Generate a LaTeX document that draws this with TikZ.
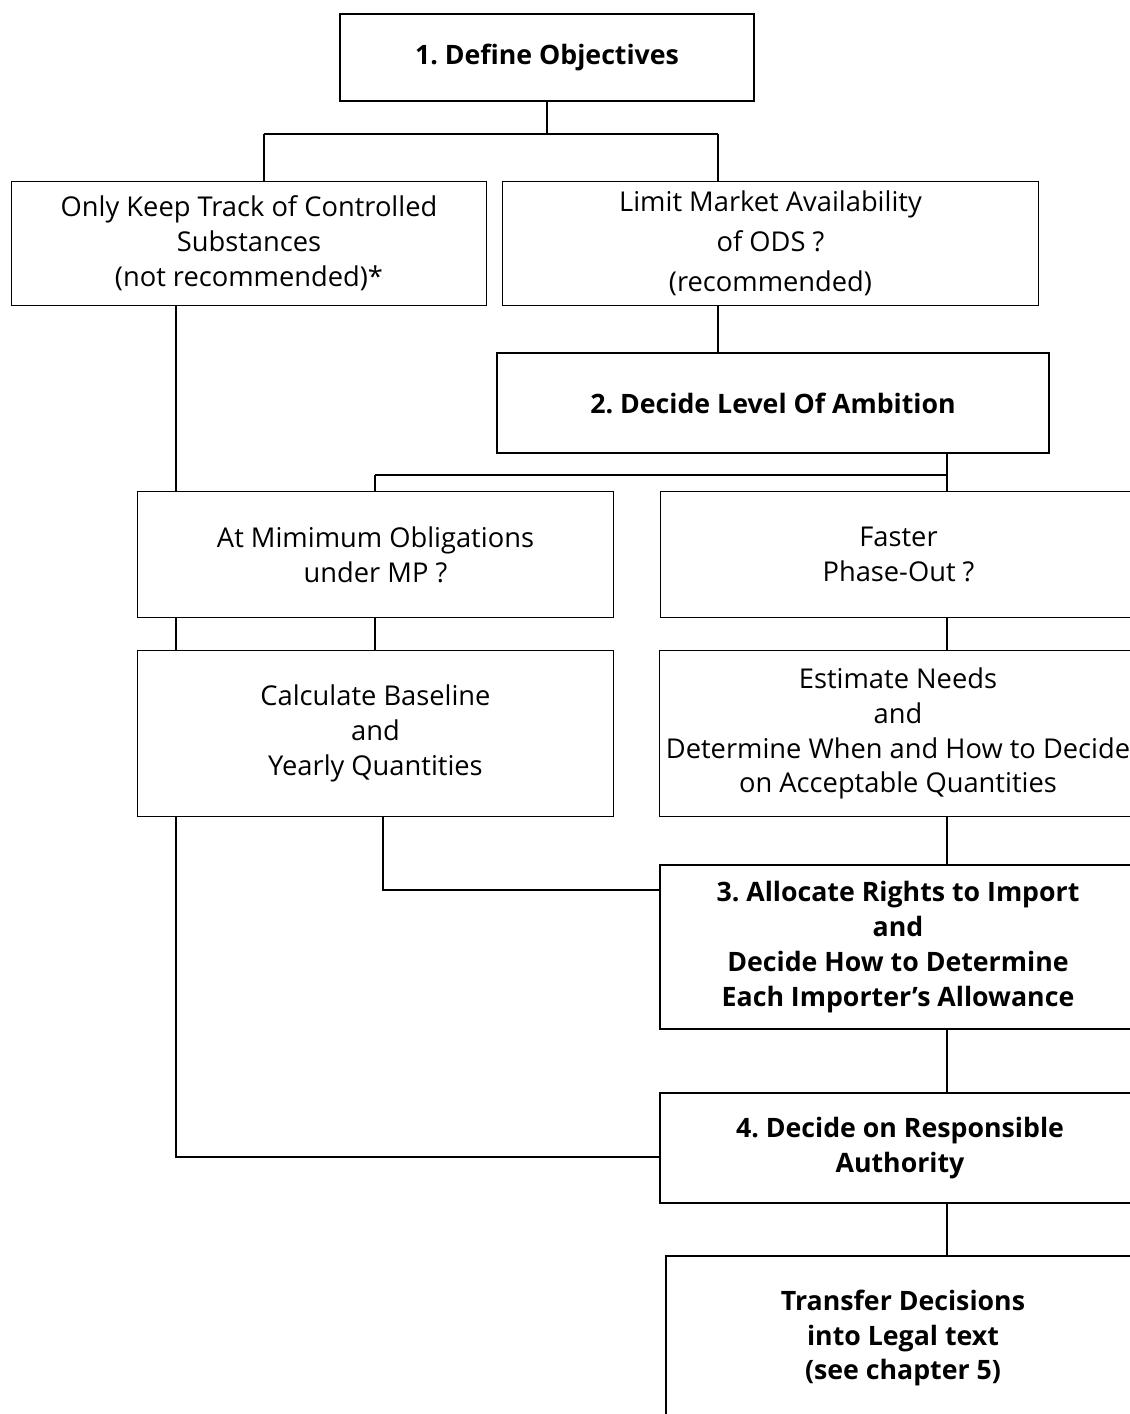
\documentclass[tikz,border=0pt]{standalone}
\usepackage{fontspec}
\setmainfont{Open Sans}
\usetikzlibrary{calc}
\frenchspacing

\begin{document}
\begin{tikzpicture}[x=0.025cm, y=-0.025cm,
    plainbox/.style={draw, line width=0.7pt, align=center, inner sep=0pt,
      font=\fontsize{19.4}{24.8}\selectfont},
    keybox/.style={plainbox, line width=1.4pt,
      font=\fontsize{19}{24.8}\selectfont\bfseries},
    link/.style={line width=1pt},
    bar/.style={line width=1.4pt}]

  \useasboundingbox (0,0) rectangle (1130,1414);
  \clip (0,0) rectangle (1130,1414);

  % Step 1 and the two options
  \node[keybox, minimum width=10.35cm, minimum height=2.175cm] (obj) at (547,57.5)
    {1. Define Objectives};
  \node[plainbox, minimum width=11.875cm, minimum height=3.075cm] (track) at (249,243.5)
    {Only Keep Track of Controlled\\Substances\\(not recommended)*};
  \node[plainbox, minimum width=13.375cm, minimum height=3.075cm,
    font=\fontsize{19.4}{28.3}\selectfont] (limit) at (770.5,243.5)
    {Limit Market Availability\\of ODS ?\\(recommended)};

  % Step 2 and the two levels
  \node[keybox, minimum width=13.8cm, minimum height=2.5cm] (ambition) at (773,403)
    {2. Decide Level Of Ambition};
  \node[plainbox, minimum width=11.875cm, minimum height=3.125cm] (minimum) at (375.5,554.5)
    {At Mimimum Obligations\\under MP ?};
  \node[plainbox, minimum width=11.875cm, minimum height=3.125cm] (faster) at (898.5,554.5)
    {Faster\\Phase-Out ?};
  \node[plainbox, minimum width=11.875cm, minimum height=4.125cm] (baseline) at (375.5,733.5)
    {Calculate Baseline\\and\\Yearly Quantities};
  \node[plainbox, minimum width=11.9cm, minimum height=4.125cm] (needs) at (898,733.5)
    {Estimate Needs\\and\\Determine When and How to Decide\\on Acceptable Quantities};

  % Steps 3, 4 and legal text
  \node[keybox, minimum width=11.9cm, minimum height=4.1cm] (allocate) at (898,947)
    {3. Allocate Rights to Import\\and\\Decide How to Determine\\Each Importer's Allowance};
  \node[keybox, minimum width=11.975cm, minimum height=2.75cm] (authority) at (900,1148)
    {4. Decide on Responsible\\Authority};
  \node[keybox, minimum width=11.85cm, minimum height=4.1cm] (legal) at (903,1338)
    {Transfer Decisions\\into Legal text\\(see chapter 5)};

  % Junctions
  \coordinate (f1l) at (264,134);
  \coordinate (f1r) at (718,134);
  \coordinate (f2l) at (375,475);
  \coordinate (f2r) at (947,475);
  \coordinate (spine) at (176,1157);
  \coordinate (j3) at (383,890);

  % Connectors from step 1
  \draw[link] (obj.south) -- (obj.south |- f1l);
  \draw[bar] (f1l) -- (f1r);
  \draw[link] (f1l) -- (f1l |- track.north);
  \draw[link] (f1r) -- (f1r |- limit.north);
  \draw[link] (f1r |- limit.south) -- (f1r |- ambition.north);

  % Connectors from step 2
  \draw[link] (f2r |- ambition.south) -- (f2r);
  \draw[bar] (f2l) -- (f2r);
  \draw[link] (f2l) -- (f2l |- minimum.north);
  \draw[link] (f2r) -- (f2r |- faster.north);
  \draw[link] (f2l |- minimum.south) -- (f2l |- baseline.north);
  \draw[link] (f2r |- faster.south) -- (f2r |- needs.north);
  \draw[link] (f2r |- needs.south) -- (f2r |- allocate.north);
  \draw[bar] (j3 |- baseline.south) -- (j3) -- (j3 -| allocate.west);

  % Left spine to step 4
  \draw[link] (spine |- track.south) -- (spine |- minimum.north);
  \draw[link] (spine |- minimum.south) -- (spine |- baseline.north);
  \draw[bar] (spine |- baseline.south) -- (spine) -- (spine -| authority.west);

  % Steps 3 to legal text
  \draw[link] (f2r |- allocate.south) -- (f2r |- authority.north);
  \draw[link] (f2r |- authority.south) -- (f2r |- legal.north);

\end{tikzpicture}
\end{document}
